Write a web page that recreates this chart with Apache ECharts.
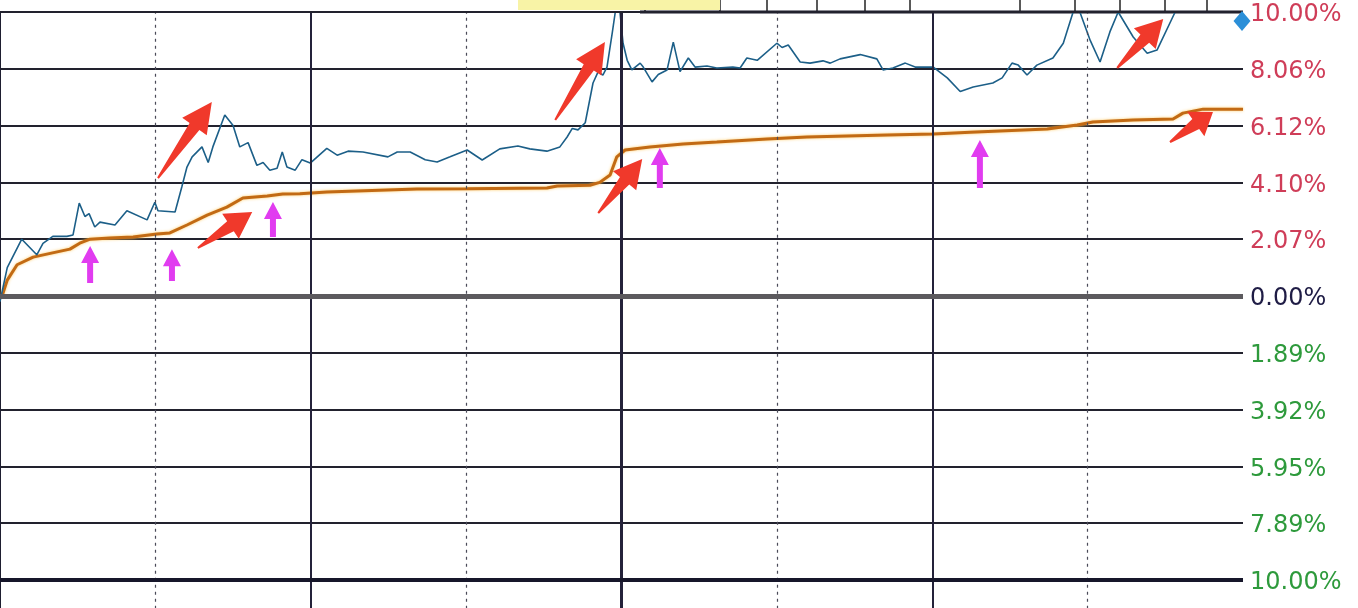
<!DOCTYPE html>
<html><head><meta charset="utf-8">
<script src="https://cdn.jsdelivr.net/npm/echarts@6/dist/echarts.min.js"></script>
<style>html,body{margin:0;padding:0;background:#fff}#c{width:1358px;height:608px}</style>
</head><body><div id="c"></div>
<script>
// ---- data (minute of session 0..240, percent change) ----
const priceMinutes = [0,1.4,4.2,7.1,8.3,10.2,12.9,14.1,15.3,16.4,17.2,18.3,19.3,22.2,24.5,28.4,29.9,30.5,33.8,35.1,36.1,37.1,39.0,40.2,41.1,43.4,45.0,46.3,47.9,49.6,50.8,52.1,53.5,54.5,55.4,57.0,58.3,59.9,63.1,65.1,67.2,70.1,74.9,76.7,79.2,82.1,84.4,86.9,90.2,93.1,96.5,100.0,102.3,105.6,108.1,109.5,110.5,111.6,113.0,114.5,115.5,116.4,117.2,118.2,118.8,119.7,120.3,121.1,122.0,123.6,124.2,125.9,127.1,128.8,130.0,131.3,132.9,134.2,136.5,138.4,141.5,142.9,144.2,146.2,150.0,151.0,152.2,154.5,156.4,158.9,160.3,162.2,166.1,169.3,170.5,172.4,174.8,176.7,180.2,182.9,185.4,187.9,191.7,193.5,195.4,196.6,198.3,200.2,203.3,205.3,207.2,208.5,210.5,212.4,214.3,215.9,218.8,221.5,223.4,226.9,240];
const priceValues  = [-0.2,1.0,2.0,1.45,1.85,2.1,2.1,2.15,3.27,2.8,2.9,2.43,2.6,2.5,3.0,2.68,3.3,3.0,2.96,3.84,4.54,4.9,5.25,4.7,5.25,6.37,6.0,5.25,5.4,4.6,4.7,4.43,4.5,5.07,4.54,4.43,4.8,4.68,5.2,4.96,5.1,5.07,4.9,5.07,5.07,4.8,4.72,4.9,5.14,4.79,5.18,5.28,5.18,5.1,5.25,5.6,5.9,5.85,6.1,7.5,7.9,7.78,8.06,9.25,10.0,10.0,8.9,8.3,7.96,8.2,8.06,7.54,7.8,7.96,8.94,7.9,8.38,8.06,8.1,8.03,8.06,8.03,8.38,8.3,8.9,8.75,8.84,8.24,8.2,8.28,8.2,8.35,8.5,8.35,7.96,8.03,8.2,8.06,8.06,7.68,7.2,7.36,7.5,7.68,8.2,8.13,7.78,8.13,8.38,8.9,10.0,10.0,9.0,8.24,9.3,10.0,9.12,8.55,8.66,10.0,10.0];
const avgMinutes = [0.4,1.4,3.3,6.4,9.7,13.5,15.4,17.4,21.2,25.7,30.3,32.8,36.1,40.0,43.8,46.9,51.6,54.6,57.9,63.1,80.5,90.2,105.6,107.6,113.9,115.8,117.8,119.1,120.7,125.5,131.9,138.4,148.1,155.8,171.3,180.2,187.3,202.2,208.0,211.0,218.8,226.5,228.4,232.3,240];
const avgValues  = [0,0.56,1.1,1.37,1.5,1.65,1.86,2.0,2.04,2.08,2.18,2.22,2.5,2.85,3.13,3.45,3.52,3.59,3.6,3.66,3.77,3.78,3.8,3.87,3.9,4.0,4.26,4.9,5.14,5.25,5.35,5.42,5.53,5.6,5.67,5.7,5.77,5.88,6.02,6.13,6.2,6.23,6.44,6.58,6.58];
const tickValues = [10,8,6,4,2,0,-2,-4,-6,-8,-10];
const tickLabels = ['10.00%','8.06%','6.12%','4.10%','2.07%','0.00%','1.89%','3.92%','5.95%','7.89%','10.00%'];
// annotation arrows: [fromMinute, fromPct, toMinute, toPct, kind(0 red,1 magenta)]
const arrows = [
  [30.5,4.15,40.9,6.83,0],[38.2,1.69,48.7,2.96,0],[107.2,6.2,116.8,8.94,0],
  [115.5,2.92,124.0,4.82,0],[215.7,8.03,224.6,9.75,0],[225.9,5.42,234.2,6.48,0],
  [17.4,0.46,17.4,1.76,1],[33.2,0.53,33.2,1.65,1],[52.7,2.08,52.7,3.31,1],
  [127.4,3.8,127.4,5.21,1],[189.2,3.8,189.2,5.49,1]
];
const solidMinutes = [60,180];
const midMinute = 120;
const dottedMinutes = [30,90,150,210];

const zip = (a,b)=>a.map((v,i)=>[v,b[i]]);
const chart = echarts.init(document.getElementById('c'), null, {renderer:'canvas'});

const vLines = [];
dottedMinutes.forEach(m=>vLines.push({xAxis:m,lineStyle:{color:'#4a4a58',width:1.2,type:[3,4]}}));
solidMinutes.forEach(m=>vLines.push({xAxis:m,lineStyle:{color:'#24223a',width:2,type:'solid'}}));
vLines.push({xAxis:midMinute,lineStyle:{color:'#24223a',width:3,type:'solid'}});
vLines.push({yAxis:0,lineStyle:{color:'#5c5a5e',width:5,type:'solid'}});
vLines.push({yAxis:-10,lineStyle:{color:'#16162a',width:4,type:'solid'}});
vLines.push({yAxis:10,lineStyle:{color:'#22222e',width:2,type:'solid'}});

function arrowItem(params, api){
  const p1 = api.coord([api.value(0), api.value(1)]);
  const p2 = api.coord([api.value(2), api.value(3)]);
  const kind = api.value(4);
  const dx = p2[0]-p1[0], dy = p2[1]-p1[1];
  const L = Math.sqrt(dx*dx+dy*dy);
  const ux = dx/L, uy = dy/L, nx = -uy, ny = ux;
  let headLen, headHalf, baseHalf, tailHalf, fill;
  if (kind === 0) { headLen = Math.min(30, L*0.4); headHalf = 15; baseHalf = 6; tailHalf = 1; fill = '#f0392b'; }
  else { headLen = 17; headHalf = 9; baseHalf = 3; tailHalf = 3; fill = '#e13cf0'; }
  const bx = p2[0]-ux*headLen, by = p2[1]-uy*headLen;
  const pts = [
    [p1[0]+nx*tailHalf, p1[1]+ny*tailHalf],
    [bx+nx*baseHalf, by+ny*baseHalf],
    [bx+nx*headHalf, by+ny*headHalf],
    [p2[0], p2[1]],
    [bx-nx*headHalf, by-ny*headHalf],
    [bx-nx*baseHalf, by-ny*baseHalf],
    [p1[0]-nx*tailHalf, p1[1]-ny*tailHalf]
  ];
  return {type:'polygon', shape:{points:pts}, style:{fill:fill}};
}

const labelMap = {};
tickValues.forEach((v,i)=>labelMap[v]=tickLabels[i]);
const labelFont = {fontFamily:'DejaVu Sans',fontSize:24,padding:[6,0,0,0]};

chart.setOption({
  animation:false,
  backgroundColor:'#ffffff',
  grid:{left:0,right:115,top:12,bottom:-28.8,outerBoundsMode:'none',containLabel:false},
  xAxis:{type:'value',min:0,max:240,show:false,splitLine:{show:false}},
  yAxis:{type:'value',position:'right',min:-12,max:10,interval:2,
    axisLine:{show:true,lineStyle:{color:'#1e1e30',width:2}},
    axisTick:{show:false},
    splitLine:{show:true,lineStyle:{color:'#22222e',width:2}},
    axisLabel:{margin:7,verticalAlign:'middle',
      formatter:v=> (labelMap[v]!==undefined?('{'+(v>0?'up':(v<0?'dn':'zr'))+'|'+labelMap[v]+'}'):''),
      rich:{
        up:Object.assign({color:'#cf3d58'},labelFont),
        dn:Object.assign({color:'#2e9a3c'},labelFont),
        zr:Object.assign({color:'#1f1c45'},labelFont)
      }}
  },
  graphic:[
    {type:'rect',shape:{x:518,y:0,width:202,height:10},style:{fill:'#f8f3a6'},z:10},
    {type:'group',children:[645,720,767,817,865,910,1020,1075,1120,1165,1207].map(x=>({type:'line',shape:{x1:x,y1:0,x2:x,y2:12},style:{stroke:'#222',lineWidth:1.5}}))},
    {type:'line',shape:{x1:640,y1:12,x2:1243,y2:12},style:{stroke:'#1a1a2a',lineWidth:3}}
  ],
  series:[
    {name:'grid',type:'line',data:[],z:1,silent:true,
      markLine:{silent:true,symbol:'none',label:{show:false},animation:false,data:vLines}},
    {name:'均价',type:'line',data:zip(avgMinutes,avgValues),z:3,symbol:'none',smooth:false,
      lineStyle:{color:'#c26a14',width:3,shadowColor:'rgba(255,200,90,0.9)',shadowBlur:3}},
    {name:'价格',type:'line',data:zip(priceMinutes,priceValues),z:4,symbol:'none',
      lineStyle:{color:'#1c5f88',width:1.6},
      markPoint:{symbol:'diamond',symbolSize:[17,20],symbolOffset:[-1,9],silent:true,
        itemStyle:{color:'#2b8fd8'},label:{show:false},data:[{coord:[240,10]}]}},
    {name:'arrows',type:'custom',z:6,silent:true,renderItem:arrowItem,
      encode:{x:[0,2],y:[1,3]},data:arrows}
  ]
});
</script></body></html>
